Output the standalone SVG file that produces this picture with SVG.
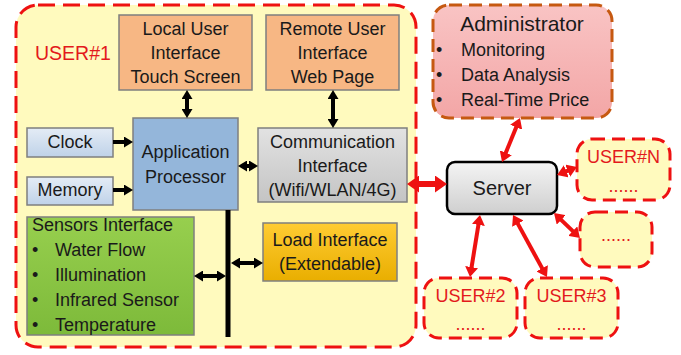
<svg xmlns="http://www.w3.org/2000/svg" width="681" height="355" viewBox="0 0 681 355">
<defs>
<linearGradient id="gBlueL" x1="0" y1="0" x2="0" y2="1"><stop offset="0" stop-color="#E4ECF6"/><stop offset="1" stop-color="#BFD2E8"/></linearGradient>
<linearGradient id="gGray" x1="0" y1="0" x2="0" y2="1"><stop offset="0" stop-color="#E2E2E2"/><stop offset="1" stop-color="#C4C4C4"/></linearGradient>
<linearGradient id="gServer" x1="0" y1="0" x2="0" y2="1"><stop offset="0" stop-color="#F4F4F4"/><stop offset="1" stop-color="#CFCFCF"/></linearGradient>
<linearGradient id="gGold" x1="0" y1="0" x2="0" y2="1"><stop offset="0" stop-color="#FFCC33"/><stop offset="1" stop-color="#E9AE00"/></linearGradient>
<linearGradient id="gPink" x1="0" y1="0" x2="0" y2="1"><stop offset="0" stop-color="#F9C4C4"/><stop offset="1" stop-color="#F3A6A6"/></linearGradient>
<linearGradient id="gGreen" x1="0" y1="0" x2="0" y2="1"><stop offset="0" stop-color="#97CF4E"/><stop offset="1" stop-color="#7DBA3A"/></linearGradient>
<marker id="ab" viewBox="0 0 9 11" markerWidth="9" markerHeight="11" refX="2" refY="5.5" markerUnits="userSpaceOnUse" orient="auto-start-reverse"><path d="M0,0 L9,5.5 L0,11 z" fill="#000"/></marker>
<marker id="ar" viewBox="0 0 10 13" markerWidth="10" markerHeight="13" refX="3" refY="6.5" markerUnits="userSpaceOnUse" orient="auto-start-reverse"><path d="M0,0 L10,6.5 L0,13 z" fill="#EE1111"/></marker>
<marker id="arB" viewBox="0 0 12 17" markerWidth="12" markerHeight="17" refX="3" refY="8.5" markerUnits="userSpaceOnUse" orient="auto-start-reverse"><path d="M0,0 L12,8.5 L0,17 z" fill="#EE1111"/></marker>
</defs>
<style>
text{font-family:"Liberation Sans",Arial,sans-serif;font-size:18px;fill:#1a1a1a}
.c{text-anchor:middle}
.red{fill:#E3191C}
.box{stroke:#7F7F7F;stroke-width:1.5}
.user{fill:#FFFABE;stroke:#EE1111;stroke-width:3;stroke-dasharray:13 7}
.bk{stroke:#000;stroke-width:4;fill:none}
.rd{stroke:#EE1111;stroke-width:4;fill:none}
</style>

<g id="user1">
<rect x="16" y="5" width="400" height="342" rx="22" fill="#FFFABE" stroke="#EE1111" stroke-width="3" stroke-dasharray="17 8"/>
<text x="35" y="60" class="red" style="font-size:19.5px">USER#1</text>
</g>

<g id="local-ui">
<rect class="box" x="119" y="15" width="133" height="75" fill="#F7B784"/>
<text class="c" x="185.5" y="35">Local User</text>
<text class="c" x="185.5" y="59">Interface</text>
<text class="c" x="185.5" y="83">Touch Screen</text>
</g>

<g id="remote-ui">
<rect class="box" x="266" y="15" width="133" height="75" fill="#F7B784"/>
<text class="c" x="332.5" y="35">Remote User</text>
<text class="c" x="332.5" y="59">Interface</text>
<text class="c" x="332.5" y="83">Web Page</text>
</g>

<g id="clock">
<rect class="box" x="27" y="128" width="86" height="29" fill="url(#gBlueL)"/>
<text class="c" x="70" y="148">Clock</text>
</g>

<g id="memory">
<rect class="box" x="27" y="177" width="86" height="28" fill="url(#gBlueL)"/>
<text class="c" x="70" y="196">Memory</text>
</g>

<g id="app-proc">
<rect class="box" x="133" y="118" width="105" height="92" fill="#94B6DA"/>
<text class="c" x="185.5" y="158">Application</text>
<text class="c" x="185.5" y="183">Processor</text>
</g>

<g id="comm">
<rect class="box" x="258" y="128" width="149" height="74" fill="url(#gGray)"/>
<text class="c" x="332.5" y="148">Communication</text>
<text class="c" x="332.5" y="172">Interface</text>
<text class="c" x="332.5" y="196">(Wifi/WLAN/4G)</text>
</g>

<g id="sensors">
<rect class="box" x="27" y="217" width="167" height="118" fill="url(#gGreen)"/>
<text x="32" y="231">Sensors Interface</text>
<text x="32" y="256">•</text><text x="55" y="256">Water Flow</text>
<text x="32" y="281">•</text><text x="55" y="281">Illumination</text>
<text x="32" y="306">•</text><text x="55" y="306">Infrared Sensor</text>
<text x="32" y="331">•</text><text x="55" y="331">Temperature</text>
</g>

<g id="load">
<rect class="box" x="263" y="223" width="134" height="58" fill="url(#gGold)"/>
<text class="c" x="330" y="246">Load Interface</text>
<text class="c" x="330" y="270">(Extendable)</text>
</g>

<g id="admin">
<rect x="433" y="5" width="179" height="113" rx="16" fill="url(#gPink)" stroke="#C65911" stroke-width="3" stroke-dasharray="13 7"/>
<text class="c" x="522" y="31" style="font-size:21px">Administrator</text>
<text x="436" y="56">•</text><text x="461" y="56">Monitoring</text>
<text x="436" y="81">•</text><text x="461" y="81">Data Analysis</text>
<text x="436" y="106">•</text><text x="461" y="106">Real-Time Price</text>
</g>

<g id="server">
<rect x="447" y="162" width="110" height="52" rx="8" fill="url(#gServer)" stroke="#000" stroke-width="2.5"/>
<text class="c" x="502" y="195" style="font-size:20px">Server</text>
</g>

<g id="userN">
<rect class="user" x="577" y="139" width="93" height="61" rx="15"/>
<text class="c red" x="623.5" y="163">USER#N</text>
<text class="c red" x="623.5" y="192">......</text>
</g>

<g id="userX">
<rect class="user" x="580" y="212" width="72" height="55" rx="15"/>
<text class="c red" x="616" y="241">......</text>
</g>

<g id="user2">
<rect class="user" x="424" y="278" width="93" height="60" rx="15"/>
<text class="c red" x="470.5" y="302">USER#2</text>
<text class="c red" x="470.5" y="330">......</text>
</g>

<g id="user3">
<rect class="user" x="525" y="278" width="93" height="60" rx="15"/>
<text class="c red" x="571.5" y="302">USER#3</text>
<text class="c red" x="571.5" y="330">......</text>
</g>

<g id="connectors">
<line x1="228" y1="210" x2="228" y2="337" stroke="#000" stroke-width="5"/>
<line class="bk" x1="187" y1="97" x2="187" y2="111" marker-start="url(#ab)" marker-end="url(#ab)"/>
<line class="bk" x1="333" y1="97" x2="333" y2="121" marker-start="url(#ab)" marker-end="url(#ab)"/>
<line class="bk" x1="113" y1="142" x2="126" y2="142" marker-end="url(#ab)"/>
<line class="bk" x1="113" y1="190" x2="126" y2="190" marker-end="url(#ab)"/>
<line class="bk" x1="245" y1="166" x2="251" y2="166" marker-start="url(#ab)" marker-end="url(#ab)"/>
<line class="bk" x1="201" y1="276" x2="219" y2="276" marker-start="url(#ab)" marker-end="url(#ab)"/>
<line class="bk" x1="238" y1="263" x2="256" y2="263" marker-start="url(#ab)" marker-end="url(#ab)"/>
<line x1="416" y1="184" x2="438" y2="184" stroke="#EE1111" stroke-width="6" marker-start="url(#arB)" marker-end="url(#arB)"/>
<line class="rd" x1="517.35" y1="124.48" x2="504.65" y2="155.52" marker-start="url(#ar)" marker-end="url(#ar)"/>
<line class="rd" x1="563.5" y1="172.4" x2="570.5" y2="169.6" marker-start="url(#ar)" marker-end="url(#ar)"/>
<line class="rd" x1="559.05" y1="217.86" x2="574.95" y2="233.14" marker-start="url(#ar)" marker-end="url(#ar)"/>
<line class="rd" x1="478.9" y1="221.9" x2="471.1" y2="270.1" marker-start="url(#ar)" marker-end="url(#ar)"/>
<line class="rd" x1="516.4" y1="221.1" x2="543.6" y2="270.9" marker-start="url(#ar)" marker-end="url(#ar)"/>
</g>
</svg>
